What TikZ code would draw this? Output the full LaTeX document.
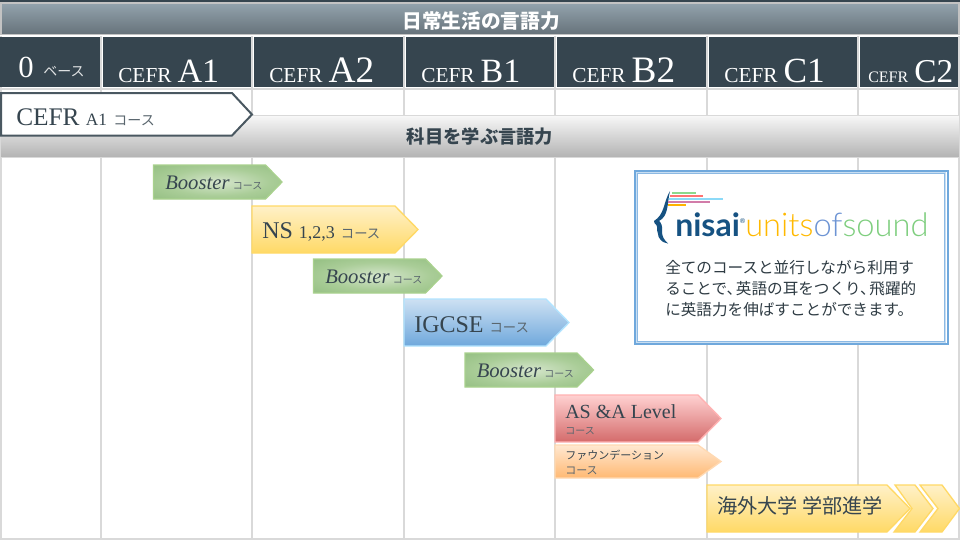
\documentclass[tikz,border=0pt]{standalone}
\usepackage{fontspec}
\setmainfont{Liberation Serif}
\newfontfamily\jp{Noto Sans CJK JP}
\newfontfamily\logofont{Lato}
\newfontfamily\logolight{Lato Light}
\definecolor{slate}{RGB}{54,69,79}
\definecolor{gridgray}{RGB}{217,217,217}
\definecolor{tagcolor}{RGB}{90,102,110}
\definecolor{nisaiblue}{RGB}{22,82,130}
\definecolor{infoblue}{RGB}{111,168,220}
\definecolor{infopale}{RGB}{200,222,242}
\definecolor{boostin}{RGB}{214,230,205}
\definecolor{boostmid}{RGB}{170,205,152}
\definecolor{boostout}{RGB}{143,188,125}
\definecolor{boostline}{RGB}{169,209,142}
\definecolor{yellowtop}{RGB}{255,241,200}
\definecolor{yellowlow}{RGB}{255,217,102}
\definecolor{titletop}{RGB}{147,163,173}
\definecolor{titlelow}{RGB}{102,114,122}
\pgfdeclareradialshading{boostshade}{\pgfpointorigin}{color(0bp)=(boostin); color(20bp)=(boostmid); color(40bp)=(boostout); color(50bp)=(boostout)}
\newcommand\fsize[1]{\fontsize{#1}{#1}\selectfont}
\newcommand\coursetag[1]{{\jp\fsize{#1}\color{tagcolor}コース}}
\newcommand\levelname[3]{{\fsize{#1}CEFR}\hspace{4.5pt}{\fsize{#2}#3}}
\begin{document}
\begin{tikzpicture}[x=.75pt,y=-.75pt,line join=miter,
    gridline/.style={gridgray,line width=1.5pt},
    coursetext/.style={anchor=base west,inner sep=0pt,text=slate},
    leveltext/.style={anchor=base west,inner sep=0pt,text=white},
    bartitle/.style={inner sep=0pt,font=\jp\bfseries\fsize{14.75}},
    yellowbar/.style={draw=yellowlow,line width=1pt,top color=yellowtop,bottom color=yellowlow},
    bluebar/.style={draw=blue!35!cyan!30,line width=1pt,top color=infoblue!35,bottom color=infoblue},
    redbar/.style={draw=red!30,line width=1pt,top color=red!18,bottom color=red!55!gray!75},
    orangebar/.style={draw=orange!30,line width=1pt,top color=orange!18,bottom color=orange!55},
    boosterbar/.style={draw=boostline,line width=1pt,shading=boostshade}]
  \useasboundingbox (0,0) rectangle (960,540);
  \fill[white] (0,0) rectangle (960,540);

  \foreach \x in {1,101,252,404,555,707,858,959}
    \draw[gridline] (\x,36) -- (\x,540);
  \draw[gridline] (0,539) -- (960,539);
  \draw[gridline] (0,88.5) -- (960,88.5);

  \fill[slate] (0,0) rectangle (960,2);
  \path[draw=gridgray!90!black,line width=.8pt,top color=titletop,bottom color=titlelow] (1,3) rectangle (959,34.5);
  \node[bartitle,text=white] (dailytitle) at (481,21) {日常生活の言語力};

  \foreach \a/\b in {0/100,102.5/251,253.5/403,405.5/554,556.5/706,708.5/857,859.5/958}
    \fill[slate] (\a,36.5) rectangle (\b,87);

  \node[leveltext] (levelzero) at (18,77) {\fsize{23}0};
  \node[leveltext,text=white!85!slate] (levelbase) at (43,76) {\jp\fsize{10.5}ベース};
  \foreach \nm/\x/\s in {A1/118/25.5,A2/269/28,B1/421/25.5,B2/572/28,C1/724/26.5}
    \node[leveltext] (level\nm) at (\x,82) {\levelname{16}{\s}{\nm}};
  \node[leveltext] (levelC2) at (868,82) {\levelname{12}{25}{C2}};

  \path[draw=gridgray,line width=.8pt,top color=black!3,bottom color=black!30] (0,115.5) rectangle (960,157.5);
  \node[bartitle,text=slate,font=\jp\bfseries\fsize{13.7}] (subjecttitle) at (480,137) {科目を学ぶ言語力};

  \draw[slate!90,fill=white,line width=1.5pt] (1,93) -- (232,93) -- (252,114.5) -- (232,135.5) -- (1,135.5) -- cycle;
  \node[coursetext] (startcourse) at (16,125) {\fsize{19}CEFR {\fsize{13}A1} \coursetag{10.5}};

  \foreach \x/\y in {153.5/165,313.5/259,465/353} {
    \path[boosterbar,shift={(\x,\y)}] (0,0) -- (112,0) -- (128.5,17) -- (112,34) -- (0,34) -- cycle;
    \node[coursetext] (booster\x) at ([shift={(11.5,24)}]\x,\y) {\fsize{15.5}\textit{Booster}\hspace{2.5pt}\coursetag{7.5}};
  }

  \path[yellowbar] (252,206) -- (395,206) -- (418,229.5) -- (395,253) -- (252,253) -- cycle;
  \node[coursetext] (nscourse) at (262,238) {\fsize{18}NS {\fsize{13.5}1,2,3} \coursetag{10}};

  \path[bluebar] (404,299) -- (546,299) -- (569,322.5) -- (546,346) -- (404,346) -- cycle;
  \node[coursetext] (igcsecourse) at (414,332) {\fsize{18}IGCSE \coursetag{10}};

  \path[redbar] (555,395) -- (698,395) -- (721,418.5) -- (698,442) -- (555,442) -- cycle;
  \node[coursetext] (ascourse) at (565,418) {\fsize{15}AS \&A Level};
  \node[coursetext] (astag) at (565,434) {\coursetag{7.5}};

  \path[orangebar] (555,445) -- (698,445) -- (721,461.5) -- (698,478) -- (555,478) -- cycle;
  \node[coursetext] (foundcourse) at (565,459) {\jp\fsize{8.25}ファウンデーション};
  \node[coursetext] (foundtag) at (565,474) {\coursetag{8.25}};

  \path[yellowbar] (707,485) -- (887,485) -- (910,508.5) -- (887,532) -- (707,532) -- cycle;
  \path[yellowbar] (895,485) -- (915,485) -- (933,508.5) -- (915,532) -- (894,532) -- (912,508.5) -- cycle;
  \path[yellowbar] (920,485) -- (942,485) -- (959.5,508.5) -- (942,532) -- (920,532) -- (938,508.5) -- cycle;
  \node[coursetext] (abroadcourse) at (717,513) {\jp\fsize{15.1}海外大学 学部進学};

  \draw[infoblue,fill=white,line width=1.5pt] (634.5,170.5) rectangle (947.5,344);
  \draw[infopale,line width=1pt] (636.5,172.5) rectangle (945.5,342);
  \draw[infoblue!80,line width=.5pt] (637.5,173.5) rectangle (944.5,341);

  \fill[nisaiblue] (670,191) .. controls (663,203) and (665,214) .. (654,221) -- (654.5,223) .. controls (658,226) and (657,228) .. (657,230) .. controls (659,233) and (657,236) .. (660,239) .. controls (662,242) and (665,243) .. (668,243.5) .. controls (664,240) and (662,236) .. (662,232) .. controls (663,227) and (661,222) .. (659,221) .. controls (669,216) and (667,203) .. (670,191) -- cycle;
  \foreach \a/\b/\y/\c in {672/696/193/green!50!gray!60,670/703/195.7/red!40!pink,669/723/199/cyan!45,668/710/202/violet!35!pink,668/686/205/orange!60!yellow}
    \draw[\c,line width=1.7pt] (\a,\y) -- (\b,\y);
  \node[anchor=base west,inner sep=0pt] (logoname) at (675,236) {\logofont\fsize{24}\textcolor{nisaiblue}{\textbf{nisai}\textsuperscript{\fsize{5}®}}};
  \node[anchor=base west,inner sep=0pt] (logosound) at (745,236) {\logolight\fsize{24.5}\textcolor{orange!55!yellow}{units}\textcolor{cyan!45!blue!60}{of}\textcolor{green!45!gray!70}{sound}};

  \node[anchor=west,inner sep=0pt,text=slate!85!black,align=left,font=\jp\fsize{11.7}] (infotext) at (665,288.5) {全てのコースと並行しながら利用す\\[3.9pt]ることで、\hspace{-.4em}英語の耳をつくり、\hspace{-.4em}飛躍的\\[3.9pt]に英語力を伸ばすことができます。};
\end{tikzpicture}
\end{document}
